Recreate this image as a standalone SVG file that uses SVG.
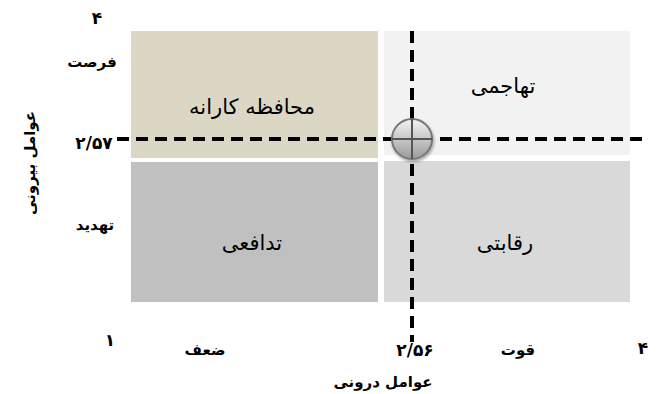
<svg xmlns="http://www.w3.org/2000/svg" width="657" height="394" viewBox="0 0 657 394">
<defs>
<style>
text{font-family:"DejaVu Sans","Noto Sans",sans-serif;fill:#000;text-anchor:middle;}
.q{font-size:21px;}
.ax{font-size:15px;font-weight:bold;}
.num{font-size:17px;font-weight:bold;}
.ttl{font-size:15px;font-weight:bold;}
.dash{stroke:#000;stroke-width:4;stroke-dasharray:12 7;fill:none;}
</style>
<linearGradient id="gb" x1="0" y1="0" x2="0" y2="1">
<stop offset="0" stop-color="#f4f4f4"/>
<stop offset="1" stop-color="#9a9a9a"/>
</linearGradient>
<filter id="sh" x="-30%" y="-30%" width="160%" height="160%">
<feDropShadow dx="1" dy="2" stdDeviation="1.5" flood-color="#000" flood-opacity="0.35"/>
</filter>
</defs>
<rect width="657" height="394" fill="#fff"/>
<g id="q-conservative">
<rect x="131" y="31" width="247" height="127" fill="#dcd7c4"/>
<text class="q" x="252" y="114">محافظه کارانه</text>
</g>
<g id="q-aggressive">
<rect x="384" y="31" width="246" height="124" fill="#f2f2f2"/>
<text class="q" x="503" y="93">تهاجمی</text>
</g>
<g id="q-defensive">
<rect x="131" y="162" width="247" height="140" fill="#c0c0c0"/>
<text class="q" x="252" y="250">تدافعی</text>
</g>
<g id="q-competitive">
<rect x="384" y="161" width="246" height="141" fill="#d9d9d9"/>
<text class="q" x="505" y="250">رقابتی</text>
</g>
<g id="connectors">
<line class="dash" x1="117" y1="139" x2="642" y2="139"/>
<line class="dash" x1="412" y1="31" x2="412" y2="342"/>
</g>
<g id="marker-point" filter="url(#sh)">
<circle cx="412" cy="139" r="20" fill="url(#gb)" stroke="#777" stroke-width="2"/>
<line x1="412" y1="119" x2="412" y2="159" stroke="#555" stroke-width="2"/>
<line x1="392" y1="139" x2="432" y2="139" stroke="#555" stroke-width="2"/>
</g>
<g id="axis-y">
<text class="num" x="97" y="24">۴</text>
<text class="ax" x="92" y="67">فرصت</text>
<text class="num" x="94" y="149">۲/۵۷</text>
<text class="ax" x="95" y="230">تهدید</text>
<text class="num" x="110" y="346">۱</text>
<text class="ttl" transform="translate(35,163) rotate(-90)">عوامل بیرونی</text>
</g>
<g id="axis-x">
<text class="ax" x="205" y="355">ضعف</text>
<text class="num" x="415" y="356">۲/۵۶</text>
<text class="ax" x="518" y="355">قوت</text>
<text class="num" x="643" y="354">۴</text>
<text class="ttl" x="383" y="387">عوامل درونی</text>
</g>
</svg>
